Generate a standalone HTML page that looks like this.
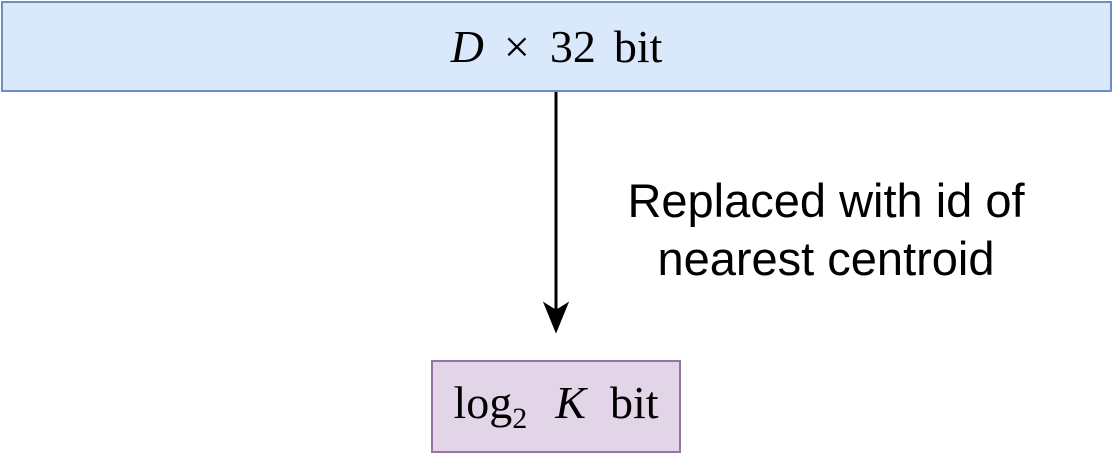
<!DOCTYPE html>
<html><head><meta charset="utf-8"><style>
body{margin:0;width:1113px;height:456px;background:#fff;position:relative;overflow:hidden}
.box{position:absolute;box-sizing:border-box;display:flex;align-items:center;justify-content:center;font-family:"Liberation Serif",serif;font-size:46px;color:#000}
.lbl{position:absolute;font-family:"Liberation Sans",sans-serif;font-size:47px;text-align:center;line-height:58px;color:#000}
.s{display:inline-block}
</style></head><body>
<div class="box" style="left:1px;top:1px;width:1111px;height:91px;background:#dae8fc;border:2px solid #6c8ebf"><span><i>D</i><span class="s" style="width:20px"></span>×<span class="s" style="width:20px"></span>32<span class="s" style="width:18px"></span>bit</span></div>
<svg style="position:absolute;left:0;top:0" width="1113" height="456">
<line x1="556" y1="92" x2="556" y2="318" stroke="#000" stroke-width="3"/>
<path d="M556 331 L545 304 L556 311 L567 304 Z" fill="#000" stroke="#000" stroke-width="2"/>
</svg>
<div class="lbl" style="left:576px;top:172px;width:500px">Replaced with id of<br>nearest centroid</div>
<div class="box" style="left:431px;top:360px;width:250px;height:93px;background:#e1d5e7;border:2px solid #9673a6"><span>log<sub style="font-size:30px">2</sub><span class="s" style="width:28px"></span><i>K</i><span class="s" style="width:24px"></span>bit</span></div>
</body></html>
